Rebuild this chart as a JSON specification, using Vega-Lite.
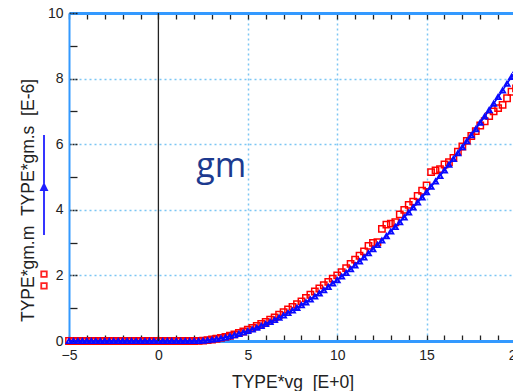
{
  "$schema": "https://vega.github.io/schema/vega-lite/v6.json",
  "width": 447,
  "height": 328,
  "autosize": {"type": "none"},
  "padding": {"left": 69, "top": 13, "right": 0, "bottom": 50},
  "background": "white",
  "config": {"view": {"stroke": null}, "font": "Liberation Sans"},
  "datasets": {
    "curve": [
      {"vg": -5, "gms": 0, "gmm": 0}, {"vg": -4.75, "gms": 0, "gmm": 0}, {"vg": -4.5, "gms": 0, "gmm": 0}, {"vg": -4.25, "gms": 0, "gmm": 0},
      {"vg": -4, "gms": 0, "gmm": 0}, {"vg": -3.75, "gms": 0, "gmm": 0}, {"vg": -3.5, "gms": 0, "gmm": 0}, {"vg": -3.25, "gms": 0, "gmm": 0},
      {"vg": -3, "gms": 0, "gmm": 0}, {"vg": -2.75, "gms": 0, "gmm": 0}, {"vg": -2.5, "gms": 0, "gmm": 0}, {"vg": -2.25, "gms": 0, "gmm": 0},
      {"vg": -2, "gms": 0, "gmm": 0}, {"vg": -1.75, "gms": 0, "gmm": 0}, {"vg": -1.5, "gms": 0, "gmm": 0}, {"vg": -1.25, "gms": 0, "gmm": 0},
      {"vg": -1, "gms": 0, "gmm": 0}, {"vg": -0.75, "gms": 0, "gmm": 0}, {"vg": -0.5, "gms": 0, "gmm": 0}, {"vg": -0.25, "gms": 0, "gmm": 0},
      {"vg": 0, "gms": 0, "gmm": 0}, {"vg": 0.25, "gms": 0, "gmm": 0}, {"vg": 0.5, "gms": 0, "gmm": 0}, {"vg": 0.75, "gms": 0, "gmm": 0},
      {"vg": 1, "gms": 0, "gmm": 0}, {"vg": 1.25, "gms": 0, "gmm": 0}, {"vg": 1.5, "gms": 0, "gmm": 0}, {"vg": 1.75, "gms": 0, "gmm": 0},
      {"vg": 2, "gms": 0, "gmm": 0},
      {"vg": 2.25, "gms": 0.003, "gmm": 0.004}, {"vg": 2.5, "gms": 0.011, "gmm": 0.013}, {"vg": 2.75, "gms": 0.024, "gmm": 0.027},
      {"vg": 3, "gms": 0.041, "gmm": 0.045}, {"vg": 3.25, "gms": 0.061, "gmm": 0.068}, {"vg": 3.5, "gms": 0.085, "gmm": 0.095},
      {"vg": 3.75, "gms": 0.113, "gmm": 0.126}, {"vg": 4, "gms": 0.145, "gmm": 0.16}, {"vg": 4.25, "gms": 0.18, "gmm": 0.2},
      {"vg": 4.5, "gms": 0.219, "gmm": 0.245}, {"vg": 4.75, "gms": 0.261, "gmm": 0.29}, {"vg": 5, "gms": 0.306, "gmm": 0.345},
      {"vg": 5.25, "gms": 0.354, "gmm": 0.4}, {"vg": 5.5, "gms": 0.406, "gmm": 0.46}, {"vg": 5.75, "gms": 0.461, "gmm": 0.52},
      {"vg": 6, "gms": 0.519, "gmm": 0.585}, {"vg": 6.25, "gms": 0.581, "gmm": 0.65}, {"vg": 6.5, "gms": 0.645, "gmm": 0.72},
      {"vg": 6.75, "gms": 0.712, "gmm": 0.8}, {"vg": 7, "gms": 0.783, "gmm": 0.88}, {"vg": 7.25, "gms": 0.856, "gmm": 0.96},
      {"vg": 7.5, "gms": 0.933, "gmm": 1.04}, {"vg": 7.75, "gms": 1.013, "gmm": 1.12}, {"vg": 8, "gms": 1.095, "gmm": 1.21},
      {"vg": 8.25, "gms": 1.18, "gmm": 1.31}, {"vg": 8.5, "gms": 1.268, "gmm": 1.41}, {"vg": 8.75, "gms": 1.36, "gmm": 1.51},
      {"vg": 9, "gms": 1.454, "gmm": 1.6}, {"vg": 9.25, "gms": 1.551, "gmm": 1.7}, {"vg": 9.5, "gms": 1.65, "gmm": 1.8},
      {"vg": 9.75, "gms": 1.753, "gmm": 1.9}, {"vg": 10, "gms": 1.859, "gmm": 2.0}, {"vg": 10.25, "gms": 1.967, "gmm": 2.1},
      {"vg": 10.5, "gms": 2.078, "gmm": 2.22}, {"vg": 10.75, "gms": 2.192, "gmm": 2.35}, {"vg": 11, "gms": 2.308, "gmm": 2.48},
      {"vg": 11.25, "gms": 2.428, "gmm": 2.6}, {"vg": 11.5, "gms": 2.55, "gmm": 2.73}, {"vg": 11.75, "gms": 2.675, "gmm": 2.9},
      {"vg": 12, "gms": 2.802, "gmm": 2.99}, {"vg": 12.25, "gms": 2.932, "gmm": 3.01}, {"vg": 12.5, "gms": 3.065, "gmm": 3.42},
      {"vg": 12.75, "gms": 3.2, "gmm": 3.55}, {"vg": 13, "gms": 3.338, "gmm": 3.58}, {"vg": 13.25, "gms": 3.48, "gmm": 3.62},
      {"vg": 13.5, "gms": 3.623, "gmm": 3.86}, {"vg": 13.75, "gms": 3.77, "gmm": 4.0}, {"vg": 14, "gms": 3.919, "gmm": 4.15},
      {"vg": 14.25, "gms": 4.07, "gmm": 4.25}, {"vg": 14.5, "gms": 4.224, "gmm": 4.42}, {"vg": 14.75, "gms": 4.381, "gmm": 4.58},
      {"vg": 15, "gms": 4.541, "gmm": 4.74}, {"vg": 15.25, "gms": 4.703, "gmm": 5.15}, {"vg": 15.5, "gms": 4.868, "gmm": 5.2},
      {"vg": 15.75, "gms": 5.035, "gmm": 5.24}, {"vg": 16, "gms": 5.204, "gmm": 5.38}, {"vg": 16.25, "gms": 5.377, "gmm": 5.45},
      {"vg": 16.5, "gms": 5.552, "gmm": 5.58}, {"vg": 16.75, "gms": 5.728, "gmm": 5.77}, {"vg": 17, "gms": 5.909, "gmm": 5.93},
      {"vg": 17.25, "gms": 6.091, "gmm": 6.1}, {"vg": 17.5, "gms": 6.274, "gmm": 6.25}, {"vg": 17.75, "gms": 6.462, "gmm": 6.4},
      {"vg": 18, "gms": 6.654, "gmm": 6.57}, {"vg": 18.25, "gms": 6.845, "gmm": 6.7}, {"vg": 18.5, "gms": 7.042, "gmm": 6.86},
      {"vg": 18.75, "gms": 7.238, "gmm": 7.0}, {"vg": 19, "gms": 7.44, "gmm": 7.1}, {"vg": 19.25, "gms": 7.642, "gmm": 7.2},
      {"vg": 19.5, "gms": 7.845, "gmm": 7.4}, {"vg": 19.75, "gms": 8.055, "gmm": 7.6}, {"vg": 20, "gms": 8.266, "gmm": 7.7}
    ]
  },
  "resolve": {"scale": {"x": "shared", "y": "shared"}, "axis": {"x": "independent", "y": "independent"}},
  "layer": [
    {
      "data": {"name": "curve"},
      "mark": {"type": "point", "shape": "square", "filled": false, "color": "#ff0000", "size": 40, "strokeWidth": 1.5, "opacity": 1},
      "encoding": {
        "x": {
          "field": "vg", "type": "quantitative",
          "scale": {"domain": [-5, 20], "nice": false, "zero": false},
          "axis": {
            "orient": "bottom",
            "values": [-5, -4, -3, -2, -1, 0, 1, 2, 3, 4, 5, 6, 7, 8, 9, 10, 11, 12, 13, 14, 15, 16, 17, 18, 19, 20],
            "format": "d",
            "labelExpr": "datum.value % 5 === 0 ? datum.label : ''",
            "labelOverlap": false, "labelFlush": false,
            "labelFontSize": 14, "labelColor": "#222", "labelPadding": 13,
            "grid": true,
            "gridColor": {"condition": {"test": "datum.value % 5 === 0 && datum.value > 0 && datum.value < 20", "value": "#7cc6f4"}, "value": "transparent"},
            "gridDash": [2, 3], "gridWidth": 1.5,
            "domainColor": "#3399ff", "domainWidth": 3,
            "tickColor": "#222", "tickSize": -6, "tickWidth": 1.3,
            "title": "TYPE*vg\u00a0\u00a0[E+0]",
            "titleFontSize": 17.5, "titleFontWeight": "normal", "titleColor": "#222",
            "titleBaseline": "alphabetic", "titleY": 46
          }
        },
        "y": {
          "field": "gmm", "type": "quantitative",
          "scale": {"domain": [0, 10], "nice": false},
          "axis": {
            "orient": "left",
            "values": [0, 0.5, 1, 1.5, 2, 2.5, 3, 3.5, 4, 4.5, 5, 5.5, 6, 6.5, 7, 7.5, 8, 8.5, 9, 9.5, 10],
            "format": "d",
            "labelExpr": "datum.value % 2 === 0 ? datum.label : ''",
            "labelOverlap": false, "labelFlush": false,
            "labelFontSize": 14, "labelColor": "#222", "labelPadding": 14,
            "grid": true,
            "gridColor": {"condition": {"test": "datum.value % 2 === 0 && datum.value > 0 && datum.value < 10", "value": "#7cc6f4"}, "value": "transparent"},
            "gridDash": [2, 3], "gridWidth": 1.5,
            "domainColor": "#3399ff", "domainWidth": 2,
            "tickColor": "#222", "tickSize": -8, "tickWidth": 1.3,
            "tickDash": {"condition": {"test": "datum.value % 2 === 0", "value": [2, 1]}, "value": []},
            "title": "TYPE*gm.m\u00a0\u00a0TYPE*gm.s\u00a0\u00a0[E-6]",
            "titleFontSize": 17.5, "titleFontWeight": "normal", "titleColor": "#222",
            "titleAngle": -90, "titleAlign": "center", "titleBaseline": "alphabetic",
            "titleX": -36, "titleY": 187
          }
        }
      }
    },
    {
      "data": {"name": "curve"},
      "mark": {"type": "line", "color": "#0000ff", "strokeWidth": 1.5},
      "encoding": {
        "x": {
          "field": "vg", "type": "quantitative",
          "scale": {"domain": [-5, 20], "nice": false, "zero": false},
          "axis": {
            "orient": "top",
            "values": [-5, -4, -3, -2, -1, 0, 1, 2, 3, 4, 5, 6, 7, 8, 9, 10, 11, 12, 13, 14, 15, 16, 17, 18, 19, 20],
            "labels": false, "grid": false,
            "domainColor": "#3399ff", "domainWidth": 3,
            "tickColor": "#222", "tickSize": -6, "tickWidth": 1.3,
            "title": null
          }
        },
        "y": {"field": "gms", "type": "quantitative", "scale": {"domain": [0, 10], "nice": false}, "axis": null}
      }
    },
    {
      "data": {"name": "curve"},
      "mark": {"type": "point", "shape": "triangle-up", "filled": false, "color": "#0a0aff", "size": 26, "strokeWidth": 1.8, "opacity": 1},
      "encoding": {
        "x": {"field": "vg", "type": "quantitative", "scale": {"domain": [-5, 20], "nice": false, "zero": false}, "axis": null},
        "y": {"field": "gms", "type": "quantitative", "scale": {"domain": [0, 10], "nice": false}, "axis": null}
      }
    },
    {
      "data": {"values": [{"z": 0}]},
      "mark": {"type": "rule", "color": "#222", "strokeWidth": 1.3},
      "encoding": {
        "x": {"field": "z", "type": "quantitative", "scale": {"domain": [-5, 20], "nice": false, "zero": false}, "axis": null}
      }
    },
    {
      "data": {"values": [{"vg": 3.52, "gm": 5.0, "label": "gm"}]},
      "mark": {"type": "text", "fontSize": 34, "font": "Open Sans", "color": "#1c3a8f", "align": "center", "baseline": "alphabetic"},
      "encoding": {
        "x": {"field": "vg", "type": "quantitative", "scale": {"domain": [-5, 20], "nice": false, "zero": false}, "axis": null},
        "y": {"field": "gm", "type": "quantitative", "scale": {"domain": [0, 10], "nice": false}, "axis": null},
        "text": {"field": "label"}
      }
    },
    {
      "data": {"values": [{"series": "gm.s"}, {"series": "gm.m"}]},
      "mark": {"type": "point", "opacity": 0},
      "encoding": {
        "shape": {
          "field": "series", "type": "nominal",
          "scale": {"domain": ["gm.s", "gm.m"], "range": ["M0,-1L0,1M-0.06,0.1L0.06,0.1L0,-0.02Z", "M-0.055,-0.672H0.055V-0.562H-0.055ZM-0.055,-0.438H0.055V-0.328H-0.055Z"]},
          "legend": {
            "orient": "none", "legendX": -76, "legendY": 121,
            "title": null, "labelExpr": "''", "padding": 0,
            "symbolOpacity": 1, "symbolSize": 10000, "symbolStrokeWidth": 1.8,
            "rowPadding": 15
          }
        },
        "stroke": {"field": "series", "type": "nominal", "scale": {"domain": ["gm.s", "gm.m"], "range": ["#2020ff", "#ff2020"]}},
        "fill": {"field": "series", "type": "nominal", "scale": {"domain": ["gm.s", "gm.m"], "range": ["#2020ff", "transparent"]}}
      }
    }
  ]
}
